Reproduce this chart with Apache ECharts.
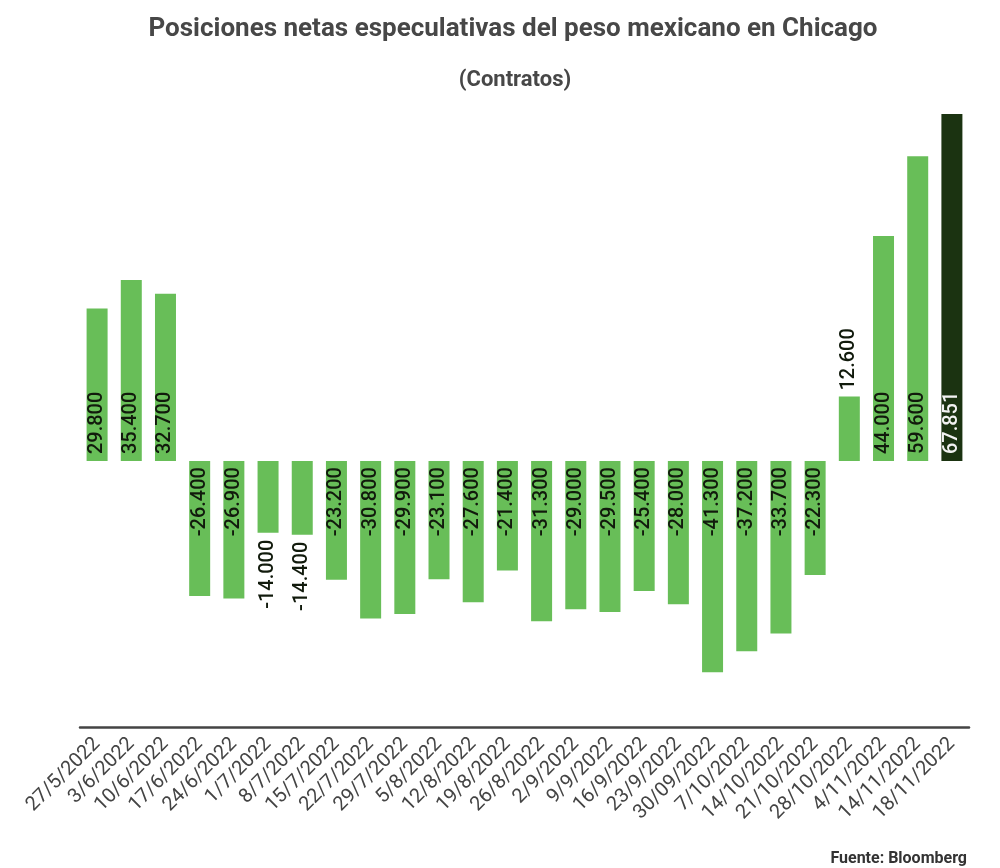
<!DOCTYPE html>
<html>
<head>
<meta charset="utf-8">
<script src="https://cdn.jsdelivr.net/npm/echarts@6/dist/echarts.min.js"></script>
<style>
  html, body { margin: 0; padding: 0; background: #fff; }
  #chart { width: 1000px; height: 868px; }
</style>
</head>
<body>
<div id="chart"></div>
<script>
// weekly dates (as printed)
const fechas = [
    '27/5/2022', '3/6/2022', '10/6/2022', '17/6/2022', '24/6/2022', '1/7/2022',
    '8/7/2022', '15/7/2022', '22/7/2022', '29/7/2022', '5/8/2022', '12/8/2022',
    '19/8/2022', '26/8/2022', '2/9/2022', '9/9/2022', '16/9/2022', '23/9/2022',
    '30/09/2022', '7/10/2022', '14/10/2022', '21/10/2022', '28/10/2022',
    '4/11/2022', '14/11/2022', '18/11/2022',
]

// net speculative positions, contracts
const posiciones = [
    29800, 35400, 32700, -26400, -26900, -14000,
    -14400, -23200, -30800, -29900, -23100, -27600,
    -21400, -31300, -29000, -29500, -25400, -28000,
    -41300, -37200, -33700, -22300, 12600,
    44000, 59600, 67851,
]

const ejeMin = -52000
const ejeMax = 67851

function miles(v) {
    const s = String(Math.abs(v)).replace(/\B(?=(\d{3})+(?!\d))/g, '.')
    return (v < 0 ? '-' : '') + s
}

const ultimo = posiciones.length - 1

const datos = posiciones.map((v, i) => {
    const corto = Math.abs(v) < 15000
    let label
    if (v >= 0) {
        label = corto
            ? { position: 'top', align: 'left', distance: 6 }
            : { position: 'insideBottom', align: 'left', distance: 7 }
    } else {
        label = corto
            ? { position: 'bottom', align: 'right', distance: 7 }
            : { position: 'insideTop', align: 'right', distance: 6 }
    }
    label.color = i === ultimo ? '#f2f2f2' : '#111a0c'
    return {
        value: v,
        itemStyle: { color: i === ultimo ? '#1b3311' : '#68be58' },
        label: label,
    }
})

const chart = echarts.init(document.getElementById('chart'))

chart.setOption({
    animation: false,
    textStyle: { fontFamily: 'Roboto' },
    title: [
        {
            text: 'Posiciones netas especulativas del peso mexicano en Chicago',
            left: 508,
            textAlign: 'center',
            top: 11,
            textStyle: { fontSize: 26, fontWeight: 'bold', color: '#474747', fontFamily: 'Roboto' },
        },
        {
            text: '(Contratos)',
            left: 510,
            textAlign: 'center',
            top: 64,
            textStyle: { fontSize: 22, fontWeight: 'bold', color: '#474747', fontFamily: 'Roboto' },
        },
        {
            text: 'Fuente: Bloomberg',
            right: 28,
            top: 846,
            textStyle: { fontSize: 16, fontWeight: 'bold', color: '#333', fontFamily: 'Roboto' },
        },
    ],
    grid: {
        left: 80,
        right: 31,
        top: 114,
        bottom: 141,
    },
    xAxis: {
        type: 'category',
        data: fechas,
        axisLine: { onZero: false, lineStyle: { color: '#444', width: 2.5 } },
        axisTick: { show: false },
        axisLabel: {
            interval: 0,
            rotate: 45,
            fontSize: 20,
            color: '#444',
            margin: 14,
        },
    },
    yAxis: {
        type: 'value',
        min: ejeMin,
        max: ejeMax,
        show: false,
        splitLine: { show: false },
    },
    series: [
        {
            type: 'bar',
            data: datos,
            barWidth: 21,
            label: {
                show: true,
                rotate: 90,
                verticalAlign: 'middle',
                fontSize: 20,
                fontWeight: 500,
                formatter: (p) => miles(p.value),
            },
        },
    ],
})
</script>
</body>
</html>
